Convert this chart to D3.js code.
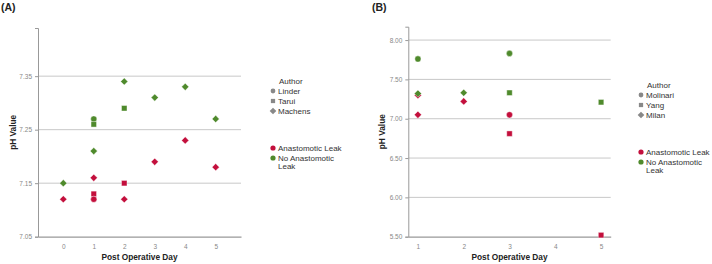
<!DOCTYPE html>
<html>
<head>
<meta charset="utf-8">
<script src="https://cdn.jsdelivr.net/npm/d3@7"></script>
<style>
  body { margin: 0; background: #fff; }
  svg { display: block; font-family: Arial, "Liberation Sans", sans-serif; }
</style>
</head>
<body>
<div id="chart"></div>
<script>
// panel A data
const daysA = [0, 1, 2, 3, 4, 5];
const ticksA = [7.05, 7.15, 7.25, 7.35];
const authorsA = ["Linder", "Tarui", "Machens"];
const pointsA = [
  // [day, pH, author, leak]
  [0, 7.15, "Machens", "No Anastomotic Leak"],
  [0, 7.12, "Machens", "Anastomotic Leak"],
  [1, 7.27, "Linder", "No Anastomotic Leak"],
  [1, 7.26, "Tarui", "No Anastomotic Leak"],
  [1, 7.21, "Machens", "No Anastomotic Leak"],
  [1, 7.16, "Machens", "Anastomotic Leak"],
  [1, 7.13, "Tarui", "Anastomotic Leak"],
  [1, 7.12, "Linder", "Anastomotic Leak"],
  [2, 7.34, "Machens", "No Anastomotic Leak"],
  [2, 7.29, "Tarui", "No Anastomotic Leak"],
  [2, 7.15, "Tarui", "Anastomotic Leak"],
  [2, 7.12, "Machens", "Anastomotic Leak"],
  [3, 7.31, "Machens", "No Anastomotic Leak"],
  [3, 7.19, "Machens", "Anastomotic Leak"],
  [4, 7.33, "Machens", "No Anastomotic Leak"],
  [4, 7.23, "Machens", "Anastomotic Leak"],
  [5, 7.27, "Machens", "No Anastomotic Leak"],
  [5, 7.18, "Machens", "Anastomotic Leak"]
];

// panel B data
const daysB = [1, 2, 3, 4, 5];
const ticksB = [5.5, 6.0, 6.5, 7.0, 7.5, 8.0];
const authorsB = ["Molinari", "Yang", "Milan"];
const pointsB = [
  [1, 7.76, "Molinari", "No Anastomotic Leak"],
  [1, 7.30, "Milan", "Anastomotic Leak"],
  [1, 7.32, "Milan", "No Anastomotic Leak"],
  [1, 7.05, "Milan", "Anastomotic Leak"],
  [2, 7.22, "Milan", "Anastomotic Leak"],
  [2, 7.33, "Milan", "No Anastomotic Leak"],
  [3, 7.83, "Molinari", "No Anastomotic Leak"],
  [3, 7.33, "Yang", "No Anastomotic Leak"],
  [3, 7.05, "Molinari", "Anastomotic Leak"],
  [3, 6.81, "Yang", "Anastomotic Leak"],
  [5, 7.21, "Yang", "No Anastomotic Leak"],
  [5, 5.52, "Yang", "Anastomotic Leak"]
];

const leakGroups = ["Anastomotic Leak", "No Anastomotic Leak"];

const color = d3.scaleOrdinal()
  .domain(leakGroups)
  .range(["#c30f3c", "#4f8a2c"]);

// square turned 45 degrees (SPSS style diamond)
const rhombus = {
  draw(ctx, size) {
    const r = Math.sqrt(size / 2);
    ctx.moveTo(0, -r);
    ctx.lineTo(r, 0);
    ctx.lineTo(0, r);
    ctx.lineTo(-r, 0);
    ctx.closePath();
  }
};

const svg = d3.select("#chart").append("svg")
  .attr("width", 712)
  .attr("height", 264);

function drawPanel(opts) {
  const { label, labelX, left, right, top, bottom, days, dayPad, yDomain, ticks, fmt,
          points, authors, shapes, legendX, legendY, titleX } = opts;

  const x = d3.scaleLinear()
    .domain([d3.min(days) - dayPad, d3.max(days) + dayPad])
    .range([left, right]);

  const y = d3.scaleLinear()
    .domain(yDomain)
    .range([bottom, top]);

  const symbol = d3.scaleOrdinal().domain(authors).range(shapes);
  const markSize = t => t === rhombus ? 26 : (t === d3.symbolSquare ? 30 : 30);

  const g = svg.append("g");

  g.append("text")
    .attr("x", labelX)
    .attr("y", 11)
    .attr("font-size", 10.5)
    .attr("font-weight", "bold")
    .attr("fill", "#222")
    .text(label);

  // gridlines
  g.append("g")
    .selectAll("line")
    .data(ticks.filter(t => t !== yDomain[0]))
    .join("line")
    .attr("x1", left)
    .attr("x2", right)
    .attr("y1", d => y(d))
    .attr("y2", d => y(d))
    .attr("stroke", "#c8c8c8")
    .attr("stroke-width", 1);

  // y axis
  g.append("g")
    .attr("transform", `translate(${left},0)`)
    .call(d3.axisLeft(y).tickValues(ticks).tickFormat(fmt).tickSize(3))
    .call(a => a.select(".domain").attr("stroke", "#999"))
    .call(a => a.selectAll(".tick line").attr("stroke", "#999"))
    .call(a => a.selectAll(".tick text")
      .attr("fill", "#888").attr("font-size", 6.5)
      .attr("font-family", "Arial, 'Liberation Sans', sans-serif"));

  // x axis
  g.append("g")
    .attr("transform", `translate(0,${bottom})`)
    .call(d3.axisBottom(x).tickValues(days).tickFormat(d3.format("d")).tickSize(0).tickPadding(8))
    .call(a => a.select(".domain").attr("stroke", "#999").attr("stroke-width", 1.2))
    .call(a => a.selectAll(".tick text")
      .attr("fill", "#888").attr("font-size", 6.5)
      .attr("font-family", "Arial, 'Liberation Sans', sans-serif"));

  // axis titles
  g.append("text")
    .attr("transform", `translate(${titleX},${(top + bottom) / 2}) rotate(-90)`)
    .attr("text-anchor", "middle")
    .attr("font-size", 8.3)
    .attr("font-weight", "bold")
    .attr("fill", "#222")
    .text("pH Value");

  g.append("text")
    .attr("x", (left + right) / 2)
    .attr("y", 260)
    .attr("text-anchor", "middle")
    .attr("font-size", 8.3)
    .attr("font-weight", "bold")
    .attr("fill", "#222")
    .text("Post Operative Day");

  // points
  g.append("g")
    .selectAll("path")
    .data(points)
    .join("path")
    .attr("transform", d => `translate(${x(d[0])},${y(d[1])})`)
    .attr("d", d => d3.symbol().type(symbol(d[2])).size(markSize(symbol(d[2])))())
    .attr("fill", d => color(d[3]))
    .attr("stroke", "#fff")
    .attr("stroke-width", 0.4);

  // legend: authors
  const leg = g.append("g").attr("transform", `translate(${legendX},${legendY})`);
  leg.append("text")
    .attr("x", 6)
    .attr("y", 3)
    .attr("font-size", 8)
    .attr("fill", "#333")
    .text("Author");

  const la = leg.selectAll(".auth")
    .data(authors)
    .join("g")
    .attr("transform", (d, i) => `translate(0,${10 + i * 10})`);
  la.append("path")
    .attr("d", d => d3.symbol().type(symbol(d)).size(symbol(d) === rhombus ? 22 : 18)())
    .attr("fill", "#888");
  la.append("text")
    .attr("x", 5)
    .attr("y", 3)
    .attr("font-size", 8)
    .attr("fill", "#333")
    .text(d => d);

  const lc = leg.selectAll(".leak")
    .data(leakGroups)
    .join("g")
    .attr("transform", (d, i) => `translate(0,${67 + i * 10})`);
  lc.append("circle")
    .attr("r", 2.6)
    .attr("fill", d => color(d));
  lc.append("text")
    .attr("x", 5)
    .attr("y", 3)
    .attr("font-size", 8)
    .attr("fill", "#333")
    .selectAll("tspan")
    .data(d => d === "No Anastomotic Leak" ? ["No Anastomotic", "Leak"] : [d])
    .join("tspan")
    .attr("x", 5)
    .attr("dy", (d, i) => i === 0 ? 0 : 7.5)
    .text(d => d);
}

drawPanel({
  label: "(A)", labelX: 1,
  left: 38, right: 241, top: 28, bottom: 236.7,
  days: daysA, dayPad: 0.83,
  yDomain: [7.05, 7.44], ticks: ticksA, fmt: d3.format(".2f"),
  points: pointsA, authors: authorsA,
  shapes: [d3.symbolCircle, d3.symbolSquare, rhombus],
  legendX: 273, legendY: 81, titleX: 16
});

drawPanel({
  label: "(B)", labelX: 372,
  left: 408.3, right: 610.7, top: 26.7, bottom: 236.7,
  days: daysB, dayPad: 0.21,
  yDomain: [5.5, 8.17], ticks: ticksB, fmt: d3.format(".2f"),
  points: pointsB, authors: authorsB,
  shapes: [d3.symbolCircle, d3.symbolSquare, rhombus],
  legendX: 641, legendY: 85, titleX: 385
});
</script>
</body>
</html>
